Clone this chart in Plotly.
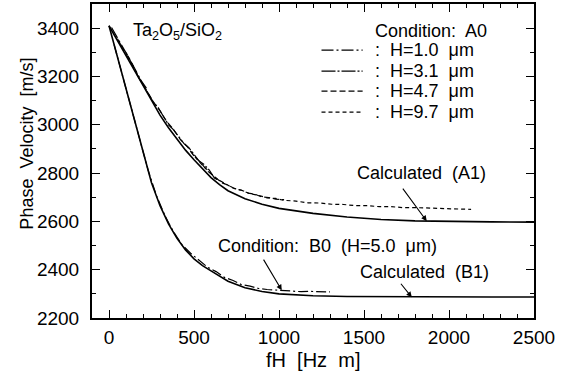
import plotly.graph_objects as go

# ---- data ----
fh_calc = [0, 50, 100, 150, 200, 250, 300, 350, 400, 450, 500, 550, 600, 650, 700, 800, 900,
           1000, 1100, 1200, 1400, 1600, 1800, 2000, 2250, 2500]
v_calc_A1 = [3410, 3348, 3288, 3222, 3158, 3096, 3040, 2988, 2940, 2895, 2855, 2816, 2781, 2752,
             2727, 2694, 2671, 2654, 2642, 2633, 2618, 2608, 2602, 2599, 2598, 2597]
v_calc_B1 = [3410, 3278, 3147, 3018, 2885, 2760, 2665, 2590, 2530, 2482, 2445, 2417, 2395, 2372,
             2352, 2325, 2310, 2300, 2295, 2292, 2289, 2288, 2287, 2287, 2287, 2287]

fh_H10 = [15, 40, 65, 90, 115, 140, 165, 190, 220]
v_H10 = [3403, 3370, 3340, 3310, 3281, 3246, 3213, 3182, 3152]

fh_H31 = [50, 80, 110, 140, 170, 200, 230, 260, 290, 320, 350, 380, 410, 440, 470, 500, 530,
          560, 590, 620, 650, 680]
v_H31 = [3356, 3317, 3287, 3244, 3201, 3168, 3131, 3094, 3070, 3034, 3000, 2979, 2951, 2923,
         2905, 2876, 2850, 2835, 2812, 2779, 2769, 2755]

fh_H47 = [100, 140, 180, 220, 260, 300, 340, 380, 420, 460, 500, 540, 580, 620, 660, 700, 740,
          780, 820, 860, 900, 940, 980, 1030]
v_H47 = [3294, 3246, 3190, 3145, 3096, 3058, 3013, 2980, 2939, 2910, 2871, 2843, 2808, 2786,
         2762, 2750, 2735, 2729, 2717, 2712, 2701, 2699, 2692, 2690]

fh_H97 = [480, 530, 580, 630, 680, 730, 780, 830, 880, 930, 980, 1030, 1100, 1170, 1240, 1310,
          1380, 1450, 1520, 1590, 1660, 1730, 1800, 1870, 1940, 2010, 2070, 2130]
v_H97 = [2890, 2847, 2812, 2777, 2758, 2738, 2729, 2714, 2708, 2697, 2695, 2687, 2684, 2677,
         2676, 2671, 2670, 2665, 2665, 2661, 2661, 2657, 2657, 2654, 2654, 2652, 2651, 2650]

fh_B0 = [30, 80, 130, 180, 230, 280, 330, 380, 430, 480, 530, 580, 630, 680, 730, 780, 830,
         880, 930, 980, 1030, 1080, 1130, 1180, 1230, 1300]
v_B0 = [3332, 3200, 3070, 2938, 2812, 2705, 2622, 2556, 2503, 2468, 2438, 2410, 2392, 2368,
        2355, 2338, 2332, 2322, 2318, 2316, 2312, 2312, 2309, 2310, 2308, 2308]

legend_labels = [":  H=1.0  μm", ":  H=3.1  μm", ":  H=4.7  μm", ":  H=9.7  μm"]

# ---- styles ----
FONT = "Liberation Sans, Arial, sans-serif"
dash_H10 = "12px,3px,2px,3px"
dash_H31 = "14px,2px,2px,2px"
dash_H47 = "6px,3px"
dash_H97 = "4px,3px"
dash_B0 = "10px,3px,2px,3px"
ANN = 18

fig = go.Figure()
fig.add_trace(go.Scatter(x=fh_calc, y=v_calc_A1, mode="lines", line=dict(color="black", width=1.6),
                         name="Calculated (A1)"))
fig.add_trace(go.Scatter(x=fh_calc, y=v_calc_B1, mode="lines", line=dict(color="black", width=1.6),
                         name="Calculated (B1)"))
fig.add_trace(go.Scatter(x=fh_H10, y=v_H10, mode="lines", line=dict(color="black", width=1.2, dash=dash_H10)))
fig.add_trace(go.Scatter(x=fh_H31, y=v_H31, mode="lines", line=dict(color="black", width=1.2, dash=dash_H31)))
fig.add_trace(go.Scatter(x=fh_H47, y=v_H47, mode="lines", line=dict(color="black", width=1.2, dash=dash_H47)))
fig.add_trace(go.Scatter(x=fh_H97, y=v_H97, mode="lines", line=dict(color="black", width=1.2, dash=dash_H97)))
fig.add_trace(go.Scatter(x=fh_B0, y=v_B0, mode="lines", line=dict(color="black", width=1.2, dash=dash_B0)))

ann = []
ann.append(dict(x=128, y=3388, xref="x", yref="y", text="Ta<sub>2</sub>O<sub>5</sub>/SiO<sub>2</sub>",
                showarrow=False, xanchor="left", yanchor="middle", font=dict(size=18)))
ann.append(dict(x=1551, y=3388, xref="x", yref="y", text="Condition:  A0",
                showarrow=False, xanchor="left", yanchor="middle", font=dict(size=ANN)))
leg_y = [3309, 3222, 3139, 3052]
leg_dash = [dash_H10, dash_H31, dash_H47, dash_H97]
shapes = []
for yy, lab, dd in zip(leg_y, legend_labels, leg_dash):
    ann.append(dict(x=1551, y=yy, xref="x", yref="y", text=lab, showarrow=False,
                    xanchor="left", yanchor="middle", font=dict(size=ANN)))
    shapes.append(dict(type="line", xref="x", yref="y", x0=1250, x1=1492, y0=yy, y1=yy,
                       line=dict(color="black", width=1.2, dash=dd)))

ann.append(dict(x=1839, y=2800, xref="x", yref="y", text="Calculated  (A1)", showarrow=False,
                font=dict(size=ANN)))
ann.append(dict(x=1869, y=2601, ax=1722, ay=2742, xref="x", yref="y", axref="x", ayref="y",
                text="", showarrow=True, arrowhead=2, arrowsize=1, arrowwidth=1.1, arrowcolor="black"))
ann.append(dict(x=1284, y=2497, xref="x", yref="y", text="Condition:  B0  (H=5.0  μm)", showarrow=False,
                font=dict(size=ANN)))
ann.append(dict(x=1016, y=2315, ax=904, ay=2448, xref="x", yref="y", axref="x", ayref="y",
                text="", showarrow=True, arrowhead=2, arrowsize=1, arrowwidth=1.1, arrowcolor="black"))
ann.append(dict(x=1857, y=2390, xref="x", yref="y", text="Calculated  (B1)", showarrow=False,
                font=dict(size=ANN)))
ann.append(dict(x=1781, y=2286, ax=1710, ay=2348, xref="x", yref="y", axref="x", ayref="y",
                text="", showarrow=True, arrowhead=2, arrowsize=1, arrowwidth=1.1, arrowcolor="black"))
# axis titles
ann.append(dict(x=-0.148, y=0.554, xref="paper", yref="paper", text="Phase  Velocity  [m/s]",
                textangle=-90, showarrow=False, xanchor="center", yanchor="middle", font=dict(size=18)))
ann.append(dict(x=0.5, y=-0.133, xref="paper", yref="paper", text="fH  [Hz  m]",
                showarrow=False, xanchor="center", yanchor="middle", font=dict(size=20)))

axis_common = dict(showgrid=False, zeroline=False, showline=True, linecolor="black", linewidth=2,
                   mirror="ticks", ticks="inside", ticklen=8, tickwidth=1.3, tickcolor="black",
                   automargin=False,
                   tickfont=dict(family=FONT, size=19, color="black"))

fig.update_layout(
    width=570, height=376,
    margin=dict(l=92, r=36, t=4, b=58),
    paper_bgcolor="white", plot_bgcolor="white",
    showlegend=False,
    font=dict(family=FONT, color="black"),
    annotations=ann, shapes=shapes,
    xaxis=dict(range=[-100, 2500], tick0=0, dtick=500, ticklabelstandoff=1,
               minor=dict(dtick=100, ticks="inside", ticklen=4, tickwidth=1.2, tickcolor="black"),
               **axis_common),
    yaxis=dict(range=[2200, 3500], tick0=2200, dtick=200, ticklabelstandoff=7,
               minor=dict(dtick=100, ticks="inside", ticklen=4, tickwidth=1.2, tickcolor="black"),
               **axis_common),
)

fig.write_html("out.html", config={"displayModeBar": False},
               post_script="document.body.style.margin='0';")
